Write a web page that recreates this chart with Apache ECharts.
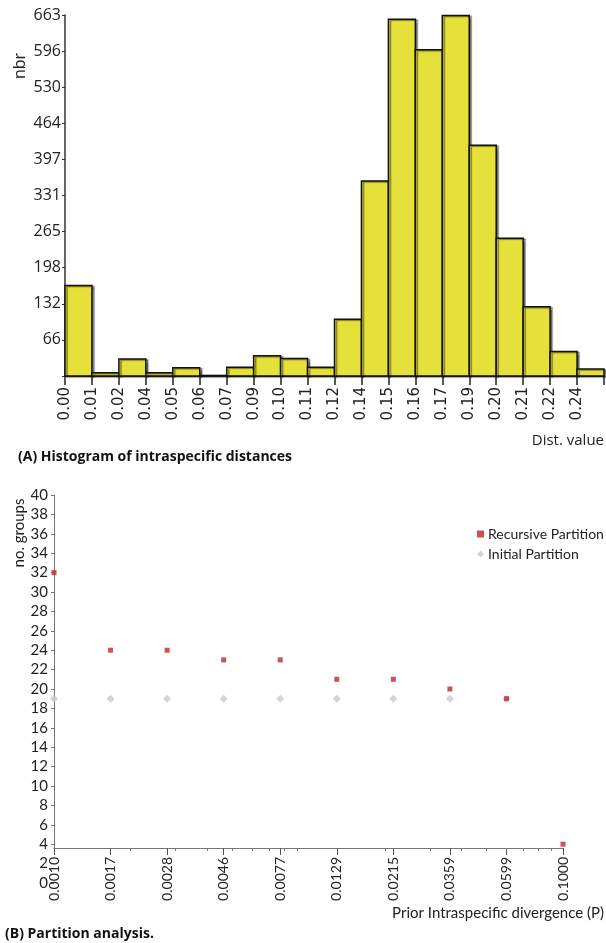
<!DOCTYPE html>
<html>
<head>
<meta charset="utf-8">
<script src="https://cdn.jsdelivr.net/npm/echarts@6/dist/echarts.min.js"></script>
<style>
  html, body { margin: 0; padding: 0; background: #fff; }
  #chart { width: 606px; height: 943px; }
</style>
</head>
<body>
<div id="chart"></div>
<script>
// histogram of intraspecific distances
const binEdgeLabels = ['0.00', '0.01', '0.02', '0.04', '0.05', '0.06', '0.07', '0.09', '0.10', '0.11',
  '0.12', '0.14', '0.15', '0.16', '0.17', '0.19', '0.20', '0.21', '0.22', '0.24']
const binCounts = [166, 6, 31, 6, 15, 1, 16, 37, 32, 16, 104, 358, 655, 599, 662, 424, 253, 127, 45, 13]

// partition analysis
const priorLabels = ['0.0010', '0.0017', '0.0028', '0.0046', '0.0077', '0.0129', '0.0215', '0.0359', '0.0599', '0.1000']
const recursiveGroups = [32, 24, 24, 23, 23, 21, 21, 20, 19, 4]
const initialGroups = [19, 19, 19, 19, 19, 19, 19, 19, 19]

// minor ticks at 2..9 x 10^k, mapped onto the label index scale
const minorTicks = []
;[0.001, 0.01].forEach(d => {
  for (let m = 2; m <= 9; m++) minorTicks.push((Math.log10(m * d) + 3) * 4.5)
})

const chart = echarts.init(document.getElementById('chart'))

const barData = binCounts.map((v, i) => [i, v])

const option = {
  animation: false,
  grid: [
    { left: 65, right: 2, top: 15, height: 361 },
    { left: 54, right: 43, top: 495, height: 388 },
    { left: 54, right: 43, top: 495, height: 353 }
  ],
  xAxis: [
    {
      gridIndex: 0, type: 'value', min: 0, max: 20, interval: 1,
      splitLine: { show: false },
      axisLine: { lineStyle: { color: '#333', width: 1.5 } },
      axisTick: { length: 9, lineStyle: { color: '#222', width: 1.5 } },
      axisLabel: {
        rotate: 90, margin: 11, fontFamily: 'DejaVu Sans', fontSize: 15, color: '#222',
        formatter: v => binEdgeLabels[v] || ''
      }
    },
    {
      gridIndex: 1, type: 'value', min: 0, max: 9, interval: 1, offset: -35,
      splitLine: { show: false },
      axisLine: { lineStyle: { color: '#777', width: 1 } },
      axisTick: { length: 7, lineStyle: { color: '#555' } },
      axisLabel: {
        rotate: 90, margin: 9, fontFamily: 'Lato', fontSize: 14, color: '#222',
        formatter: v => priorLabels[Math.round(v)]
      }
    },
    {
      gridIndex: 1, type: 'value', min: 0, max: 9, offset: -35, position: 'bottom',
      splitLine: { show: false },
      axisLine: { show: false },
      axisTick: { show: true, length: 3, customValues: minorTicks, lineStyle: { color: '#777' } },
      axisLabel: { show: false }
    },
    {
      gridIndex: 2, type: 'value', min: 0, max: 9, show: false
    }
  ],
  yAxis: [
    {
      gridIndex: 0, type: 'value', min: 0, max: 663, interval: 66.3,
      splitLine: { show: false },
      axisLine: { show: true, lineStyle: { color: '#333', width: 1.5 } },
      axisTick: { show: true, length: 3, lineStyle: { color: '#333' } },
      axisLabel: {
        margin: 4, fontFamily: 'Open Sans', fontSize: 16, color: '#222',
        formatter: v => v === 0 ? '' : String(Math.floor(v + 1e-6))
      }
    },
    {
      gridIndex: 1, type: 'value', min: 0, max: 40, interval: 2,
      splitLine: { show: false },
      axisLine: { show: false },
      axisTick: { show: true, length: 3, lineStyle: { color: '#777' } },
      axisLabel: { margin: 6, fontFamily: 'Lato', fontSize: 15, color: '#222' }
    },
    {
      gridIndex: 2, type: 'value', min: 0, max: 40,
      splitLine: { show: false },
      axisLine: { show: true, lineStyle: { color: '#777', width: 1 } },
      axisTick: { show: false },
      axisLabel: { show: false }
    }
  ],
  legend: {
    orient: 'vertical', left: 472, top: 522,
    itemWidth: 7, itemHeight: 7, itemGap: 6,
    textStyle: { fontFamily: 'Lato', fontSize: 14, color: '#222', padding: [0, 0, 0, -1] },
    data: [
      { name: 'Recursive Partition', icon: 'rect', itemStyle: { color: '#c3262b' } },
      { name: 'Initial Partition', icon: 'diamond' }
    ]
  },
  graphic: [
    { type: 'text', x: 20, y: 66, rotation: Math.PI / 2,
      style: { text: 'nbr', font: '16px "Open Sans"', fill: '#222', align: 'center', verticalAlign: 'middle' } },
    { type: 'text', x: 604, y: 441,
      style: { text: 'Dist. value', font: '15px "Open Sans"', fill: '#222', align: 'right', verticalAlign: 'middle' } },
    { type: 'text', x: 18, y: 457,
      style: { text: '(A) Histogram of intraspecific distances', font: 'bold 14px "Open Sans"', fill: '#111', verticalAlign: 'middle' } },
    { type: 'text', x: 19, y: 533, rotation: Math.PI / 2,
      style: { text: 'no. groups', font: '15px Lato', fill: '#222', align: 'center', verticalAlign: 'middle' } },
    { type: 'text', x: 604, y: 913,
      style: { text: 'Prior Intraspecific divergence (P)', font: '15px Lato', fill: '#222', align: 'right', verticalAlign: 'middle' } },
    { type: 'text', x: 5, y: 934,
      style: { text: '(B) Partition analysis.', font: 'bold 14px "Open Sans"', fill: '#111', verticalAlign: 'middle' } }
  ],
  series: [
    {
      type: 'custom', xAxisIndex: 0, yAxisIndex: 0,
      data: barData,
      renderItem: (params, api) => {
        const i = api.value(0)
        const p0 = api.coord([i, 0])
        const p1 = api.coord([i + 1, api.value(1)])
        return {
          type: 'rect',
          shape: { x: p0[0], y: p1[1], width: p1[0] - p0[0], height: p0[1] - p1[1] },
          style: {
            fill: '#e6e03a', stroke: '#111', lineWidth: 1.5,
            shadowColor: 'rgba(0,0,0,0.45)', shadowOffsetX: 2, shadowOffsetY: 1, shadowBlur: 1
          }
        }
      }
    },
    {
      name: 'Initial Partition', type: 'scatter', xAxisIndex: 1, yAxisIndex: 1,
      symbol: 'diamond', symbolSize: 8,
      itemStyle: { color: '#c9c9c9' },
      data: initialGroups.map((v, i) => [i, v])
    },
    {
      name: 'Recursive Partition', type: 'scatter', xAxisIndex: 1, yAxisIndex: 1,
      symbol: 'rect', symbolSize: 5,
      itemStyle: { color: '#c3262b' },
      data: recursiveGroups.map((v, i) => [i, v])
    }
  ]
}

chart.setOption(option)
</script>
</body>
</html>
